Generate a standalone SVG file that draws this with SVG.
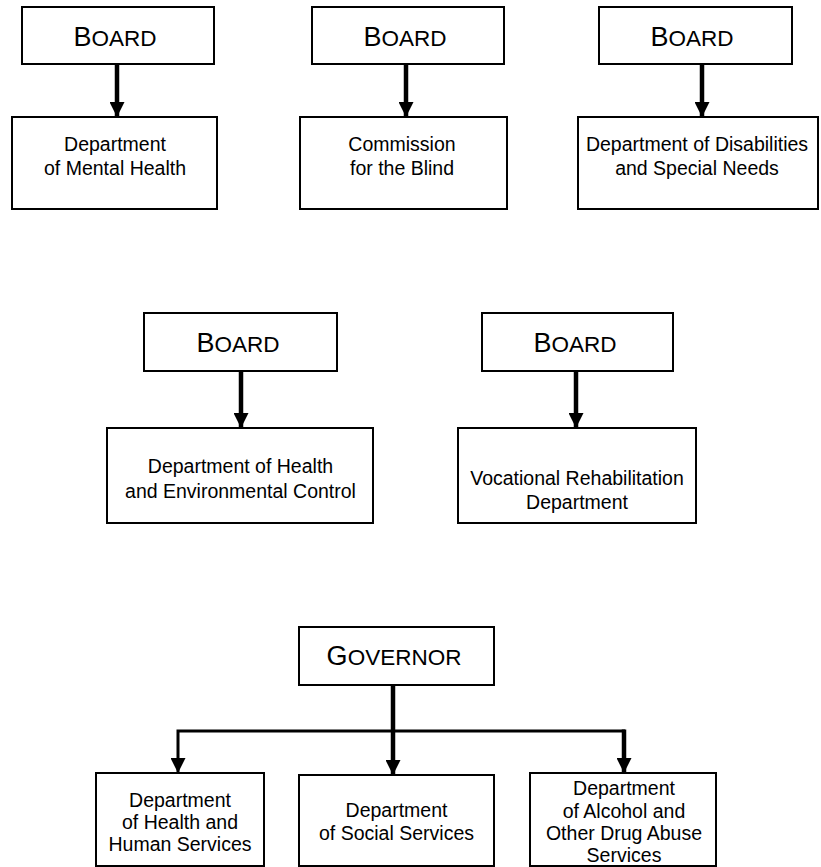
<svg xmlns="http://www.w3.org/2000/svg" width="821" height="867" viewBox="0 0 821 867">
<style>
.box{fill:#fff;stroke:#000;stroke-width:2}
.t{font-family:"Liberation Sans",Arial,sans-serif;font-size:19.5px;fill:#000;text-anchor:middle}
.h{font-family:"Liberation Sans",Arial,sans-serif;font-size:22.5px;fill:#000;text-anchor:middle}
.big{font-size:27px}
.c{fill:none;stroke:#000;stroke-width:4.5}
.c2{fill:none;stroke:#000;stroke-width:3}
</style>
<defs>
<marker id="ah" markerUnits="userSpaceOnUse" viewBox="0 0 15 15" refX="15" refY="7.5" markerWidth="15" markerHeight="15" orient="auto">
<path d="M0,0 L15,7.5 L0,15 z" fill="#000"/>
</marker>
</defs>
<rect width="821" height="867" fill="#fff"/>
<g id="connectors">
<line class="c" x1="117" y1="64" x2="117" y2="117" marker-end="url(#ah)"/>
<line class="c" x1="406" y1="64" x2="406" y2="117" marker-end="url(#ah)"/>
<line class="c" x1="702" y1="64" x2="702" y2="117" marker-end="url(#ah)"/>
<line class="c" x1="241" y1="371" x2="241" y2="428" marker-end="url(#ah)"/>
<line class="c" x1="576" y1="371" x2="576" y2="428" marker-end="url(#ah)"/>
<line class="c" x1="393" y1="685" x2="393" y2="775" marker-end="url(#ah)"/>
<polyline class="c2" points="393,731 178,731 178,773" marker-end="url(#ah)"/>
<line class="c2" x1="393" y1="731" x2="625" y2="731"/>
<line class="c" x1="624" y1="729.5" x2="624" y2="773" marker-end="url(#ah)"/>
</g>
<g id="board1">
<rect class="box" x="22" y="7" width="192" height="57"/>
<text class="h" x="115" y="46"><tspan class="big">B</tspan>OARD</text>
</g>
<g id="mental-health">
<rect class="box" x="12" y="117" width="205" height="92"/>
<text class="t" x="115" y="151">Department</text>
<text class="t" x="115" y="175">of Mental Health</text>
</g>
<g id="board2">
<rect class="box" x="312" y="7" width="192" height="57"/>
<text class="h" x="405" y="46"><tspan class="big">B</tspan>OARD</text>
</g>
<g id="blind">
<rect class="box" x="300" y="117" width="207" height="92"/>
<text class="t" x="402" y="151">Commission</text>
<text class="t" x="402" y="175">for the Blind</text>
</g>
<g id="board3">
<rect class="box" x="599" y="7" width="193" height="57"/>
<text class="h" x="692" y="46"><tspan class="big">B</tspan>OARD</text>
</g>
<g id="disabilities">
<rect class="box" x="578" y="117" width="240" height="92"/>
<text class="t" x="697" y="151">Department of Disabilities</text>
<text class="t" x="697" y="175">and Special Needs</text>
</g>
<g id="board4">
<rect class="box" x="144" y="313" width="193" height="58"/>
<text class="h" x="238" y="352"><tspan class="big">B</tspan>OARD</text>
</g>
<g id="health-env">
<rect class="box" x="107" y="428" width="266" height="95"/>
<text class="t" x="240.5" y="473">Department of Health</text>
<text class="t" x="240.5" y="498">and Environmental Control</text>
</g>
<g id="board5">
<rect class="box" x="482" y="313" width="191" height="58"/>
<text class="h" x="575" y="352"><tspan class="big">B</tspan>OARD</text>
</g>
<g id="vocational">
<rect class="box" x="458" y="428" width="238" height="95"/>
<text class="t" x="577" y="485">Vocational Rehabilitation</text>
<text class="t" x="577" y="509">Department</text>
</g>
<g id="governor">
<rect class="box" x="299" y="627" width="195" height="58"/>
<text class="h" x="394" y="665"><tspan class="big">G</tspan>OVERNOR</text>
</g>
<g id="dhhs">
<rect class="box" x="96" y="773" width="168" height="93"/>
<text class="t" x="180" y="807">Department</text>
<text class="t" x="180" y="829">of Health and</text>
<text class="t" x="180" y="851">Human Services</text>
</g>
<g id="dss">
<rect class="box" x="299" y="775" width="195" height="91"/>
<text class="t" x="396.5" y="817">Department</text>
<text class="t" x="396.5" y="840">of Social Services</text>
</g>
<g id="daodas">
<rect class="box" x="530" y="773" width="186" height="93"/>
<text class="t" x="624" y="795">Department</text>
<text class="t" x="624" y="817.5">of Alcohol and</text>
<text class="t" x="624" y="840">Other Drug Abuse</text>
<text class="t" x="624" y="862">Services</text>
</g>
</svg>
